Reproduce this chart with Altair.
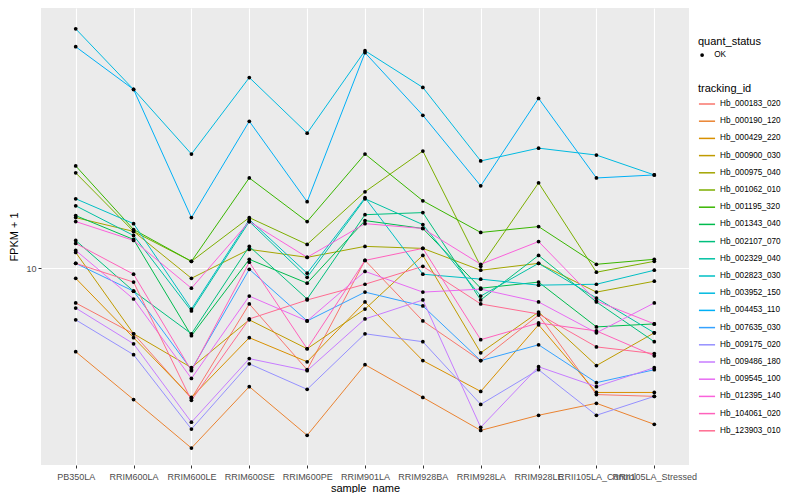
import altair as alt
import pandas as pd

samples = ["PB350LA", "RRIM600LA", "RRIM600LE", "RRIM600SE", "RRIM600PE", "RRIM901LA",
           "RRIM928BA", "RRIM928LA", "RRIM928LE", "RRII105LA_Control", "RRII105LA_Stressed"]

ids = ["Hb_000183_020", "Hb_000190_120", "Hb_000429_220", "Hb_000900_030", "Hb_000975_040",
       "Hb_001062_010", "Hb_001195_320", "Hb_001343_040", "Hb_002107_070", "Hb_002329_040",
       "Hb_002823_030", "Hb_003952_150", "Hb_004453_110", "Hb_007635_030", "Hb_009175_020",
       "Hb_009486_180", "Hb_009545_100", "Hb_012395_140", "Hb_104061_020", "Hb_123903_010"]

colors = ["#F8766D", "#EA8331", "#D89000", "#C09B00", "#A3A500", "#7CAE00", "#39B600", "#00BB4E",
          "#00BF7D", "#00C1A3", "#00BFC4", "#00BAE0", "#00B0F6", "#35A2FF", "#9590FF", "#C77CFF",
          "#E76BF3", "#FA62DB", "#FF62BC", "#FF6C91"]

hb_000183_020 = [8.07, 6.67, 4.47, 8.02, 5.34, 10.50, 7.22, 5.65, 7.49, 4.58, 4.53]
hb_000190_120 = [5.97, 4.44, 3.29, 4.81, 3.56, 5.51, 4.50, 3.67, 4.03, 4.34, 3.81]
hb_000429_220 = [9.40, 6.51, 4.50, 6.51, 5.61, 8.12, 5.65, 4.67, 7.05, 4.64, 4.64]
hb_000900_030 = [11.03, 6.67, 5.41, 7.27, 6.08, 7.77, 10.83, 5.93, 7.63, 5.48, 6.71]
hb_000975_040 = [13.68, 12.56, 9.40, 11.24, 10.70, 11.45, 11.31, 9.88, 10.31, 8.63, 9.23]
hb_001062_010 = [18.04, 12.56, 10.44, 13.68, 11.59, 16.05, 20.64, 10.12, 16.96, 9.76, 10.44]
hb_001195_320 = [18.83, 12.71, 10.44, 17.48, 13.35, 20.27, 15.18, 12.48, 12.94, 10.25, 10.57]
hb_001343_040 = [13.85, 11.95, 6.59, 10.57, 9.12, 13.43, 12.79, 8.84, 9.18, 6.96, 7.09]
hb_002107_070 = [11.88, 8.68, 6.67, 11.45, 8.27, 13.93, 14.11, 8.22, 10.83, 8.12, 6.35]
hb_002329_040 = [14.72, 12.25, 7.68, 13.35, 9.46, 15.37, 13.10, 8.42, 10.31, 8.32, 6.71]
hb_002823_030 = [15.37, 13.18, 7.77, 13.51, 9.70, 15.47, 9.64, 9.35, 9.01, 9.06, 9.88]
hb_003952_150 = [43.95, 30.22, 20.27, 32.53, 23.06, 38.39, 30.59, 19.42, 21.02, 20.14, 17.81]
hb_004453_110 = [39.35, 30.22, 13.68, 24.82, 15.09, 37.93, 25.75, 16.65, 28.59, 17.48, 17.81]
hb_007635_030 = [10.31, 8.68, 5.34, 9.94, 7.22, 8.63, 7.92, 5.65, 6.23, 4.93, 5.34]
hb_009175_020 = [7.27, 5.86, 3.70, 5.54, 4.73, 6.67, 6.35, 4.31, 5.34, 4.03, 4.53]
hb_009486_180 = [7.82, 6.27, 3.86, 5.72, 5.31, 7.31, 8.22, 3.74, 5.44, 4.81, 5.41]
hb_009545_100 = [11.17, 8.27, 5.06, 8.42, 7.22, 9.81, 8.63, 8.79, 8.12, 6.71, 8.07]
hb_012395_140 = [13.35, 11.88, 8.84, 13.35, 10.70, 13.18, 12.79, 10.25, 11.80, 8.17, 7.09]
hb_104061_020 = [11.66, 9.64, 5.31, 10.38, 6.08, 10.50, 11.31, 6.43, 7.13, 6.79, 5.82]
hb_123903_010 = [10.31, 9.18, 4.42, 7.31, 8.22, 9.06, 10.12, 8.02, 7.54, 6.15, 5.90]

series = [hb_000183_020, hb_000190_120, hb_000429_220, hb_000900_030, hb_000975_040,
          hb_001062_010, hb_001195_320, hb_001343_040, hb_002107_070, hb_002329_040,
          hb_002823_030, hb_003952_150, hb_004453_110, hb_007635_030, hb_009175_020,
          hb_009486_180, hb_009545_100, hb_012395_140, hb_104061_020, hb_123903_010]

rows = []
for tid, vals in zip(ids, series):
    for s, v in zip(samples, vals):
        rows.append({"tracking_id": tid, "sample_name": s, "fpkm": v, "quant_status": "OK"})
df = pd.DataFrame(rows)

FONT = "Liberation Sans"

base = alt.Chart(df).encode(
    x=alt.X("sample_name:N", sort=samples, title="sample_name",
            scale=alt.Scale(type="point", padding=0.6),
            axis=alt.Axis(labelAngle=0, labelOverlap=False, labelLimit=0, grid=True,
                          titlePadding=1, labelPadding=4)),
    y=alt.Y("fpkm:Q", title="FPKM + 1",
            scale=alt.Scale(type="log", domain=[2.963, 50], nice=False, zero=False),
            axis=alt.Axis(values=[10], format="d", grid=True, titlePadding=6, labelPadding=2)),
)

lines = base.mark_line(strokeWidth=1.0).encode(
    color=alt.Color("tracking_id:N", scale=alt.Scale(domain=ids, range=colors),
                    legend=alt.Legend(title="tracking_id", orient="none", legendX=657, legendY=75,
                                      symbolType="stroke", symbolStrokeWidth=1.5, symbolSize=260,
                                      rowPadding=4.2, labelFontSize=8.2, titleFontSize=11,
                                      titleFontWeight="normal", labelColor="black",
                                      titleColor="black", titlePadding=1, labelOffset=4))
)

points = base.mark_point(filled=True, size=14, opacity=1, color="black").encode(
    shape=alt.Shape("quant_status:N", scale=alt.Scale(range=["circle"]),
                    legend=alt.Legend(title="quant_status", orient="none", legendX=657, legendY=28,
                                      symbolSize=14, symbolFillColor="black", symbolStrokeColor="black",
                                      labelFontSize=8.2, titleFontSize=11, titleFontWeight="normal",
                                      labelColor="black", titleColor="black", titlePadding=4,
                                      labelOffset=8))
)

chart = alt.layer(lines, points).properties(
    width=648, height=457,
    padding={"left": 0, "top": 0, "right": 0, "bottom": 0},
).configure_view(
    fill="#EBEBEB", stroke=None
).configure_axis(
    gridColor="white", gridWidth=1.1, domain=False, tickColor="#333333", tickSize=3,
    labelColor="#4D4D4D", labelFontSize=9, titleFontSize=11, titleFontWeight="normal",
    titleColor="black", labelFont=FONT, titleFont=FONT
).configure_legend(
    labelFont=FONT, titleFont=FONT
)

chart.save("out.html", embed_options={"renderer": "svg", "actions": False})
